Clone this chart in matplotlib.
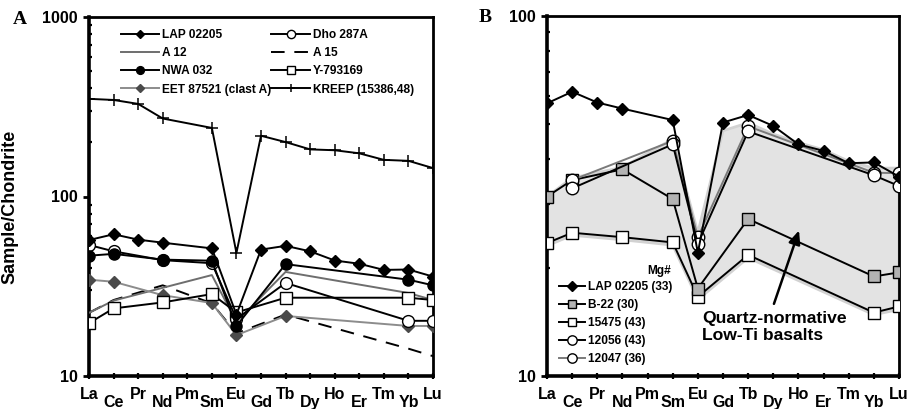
import matplotlib
matplotlib.use("Agg")
import matplotlib.pyplot as plt
from matplotlib.ticker import NullFormatter, FixedLocator
import numpy as np

plt.rcParams['font.family'] = ['Liberation Sans', 'DejaVu Sans']
plt.rcParams['font.weight'] = 'bold'

elements = ['La', 'Ce', 'Pr', 'Nd', 'Pm', 'Sm', 'Eu', 'Gd', 'Tb', 'Dy', 'Ho', 'Er', 'Tm', 'Yb', 'Lu']

# ---- Panel A data ----
lap_el = ['La', 'Ce', 'Pr', 'Nd', 'Sm', 'Eu', 'Gd', 'Tb', 'Dy', 'Ho', 'Er', 'Tm', 'Yb', 'Lu']
lap_val = [57.2, 61.6, 57.5, 55.3, 51.4, 22.0, 50.6, 53.1, 49.5, 44.0, 42.2, 39.0, 39.2, 35.8]

dho_el = ['La', 'Ce', 'Nd', 'Sm', 'Eu', 'Tb', 'Yb', 'Lu']
dho_val = [53.7, 49.5, 44.2, 42.5, 20.8, 33.0, 20.3, 20.3]

a12_el = ['La', 'Ce', 'Nd', 'Sm', 'Eu', 'Tb', 'Yb', 'Lu']
a12_val = [22.5, 26.3, 31.0, 36.5, 20.0, 38.0, 29.0, 26.5]

a15_el = ['La', 'Ce', 'Nd', 'Sm', 'Eu', 'Tb', 'Yb', 'Lu']
a15_val = [22.5, 26.5, 32.0, 25.4, 17.3, 22.0, 14.2, 12.9]

nwa_el = ['La', 'Ce', 'Nd', 'Sm', 'Eu', 'Tb', 'Yb', 'Lu']
nwa_val = [46.8, 47.9, 44.5, 43.9, 19.0, 42.0, 34.4, 32.0]

y79_el = ['La', 'Ce', 'Nd', 'Sm', 'Eu', 'Tb', 'Yb', 'Lu']
y79_val = [19.7, 23.8, 25.7, 28.6, 22.6, 27.3, 27.3, 26.5]

eet_el = ['La', 'Ce', 'Nd', 'Sm', 'Eu', 'Tb', 'Yb', 'Lu']
eet_val = [34.4, 33.5, 28.2, 25.5, 16.9, 21.6, 19.0, 19.0]

kreep_el = ['La', 'Ce', 'Pr', 'Nd', 'Sm', 'Eu', 'Gd', 'Tb', 'Dy', 'Ho', 'Er', 'Tm', 'Yb', 'Lu']
kreep_val = [350, 345, 328, 272, 241, 48.5, 218, 201, 183, 181, 174, 160, 158, 144]

# ---- Panel B data ----
b22_el = ['La', 'Ce', 'Nd', 'Sm', 'Eu', 'Tb', 'Yb', 'Lu']
b22_val = [31.5, 35.0, 37.5, 31.0, 17.5, 27.3, 18.9, 19.4]

s15475_el = ['La', 'Ce', 'Nd', 'Sm', 'Eu', 'Tb', 'Yb', 'Lu']
s15475_val = [23.4, 25.0, 24.3, 23.5, 16.6, 21.7, 15.0, 15.6]

s12056_el = ['Ce', 'Sm', 'Eu', 'Tb', 'Yb', 'Lu']
s12056_val = [33.2, 44.0, 23.3, 47.8, 36.1, 33.7]

s12047_el = ['Ce', 'Sm', 'Eu', 'Tb', 'Yb', 'Lu']
s12047_val = [35.0, 45.0, 24.3, 49.4, 36.7, 36.6]

field_up_el = ['La', 'Ce', 'Nd', 'Sm', 'Eu', 'Gd', 'Tb', 'Dy', 'Ho', 'Er', 'Tm', 'Yb', 'Lu']
field_up_val = [31.5, 35.5, 38.0, 45.5, 25.0, 48.0, 50.5, 47.0, 44.5, 42.5, 39.5, 37.8, 37.8]
field_lo_el = ['La', 'Ce', 'Nd', 'Sm', 'Eu', 'Tb', 'Yb', 'Lu']
field_lo_val = [23.0, 24.6, 23.9, 23.1, 16.3, 21.3, 14.8, 15.3]


def pos(els):
    return [elements.index(e) for e in els]


W, H = 913, 409
fig = plt.figure(figsize=(W / 100, H / 100), dpi=100)


def make_axes(l, r, t, b):
    return fig.add_axes([l / W, 1 - b / H, (r - l) / W, (b - t) / H])


def style_axes(ax, ylo, yhi):
    ax.set_yscale('log')
    ax.set_xlim(0, 14)
    ax.set_ylim(ylo, yhi)
    decades = [10 ** k for k in range(int(np.log10(ylo)), int(np.log10(yhi)) + 1)]
    ax.yaxis.set_major_locator(FixedLocator(decades))
    ax.set_yticklabels([str(d) for d in decades])
    minors = [m * d for d in decades[:-1] for m in range(2, 10)]
    ax.yaxis.set_minor_locator(FixedLocator(minors))
    ax.yaxis.set_minor_formatter(NullFormatter())
    ax.tick_params(axis='y', which='major', direction='out', length=4, width=2,
                   labelsize=11.5, pad=4)
    ax.tick_params(axis='y', which='minor', direction='in', length=2.5, width=1.6)
    even = list(range(0, 15, 2))
    odd = list(range(1, 15, 2))
    ax.set_xticks(even)
    ax.set_xticklabels([elements[i] for i in even])
    ax.set_xticks(odd, minor=True)
    ax.set_xticklabels([elements[i] for i in odd], minor=True)
    ax.tick_params(axis='x', which='both', direction='inout', length=4, width=1.6,
                   labelsize=11.5)
    ax.tick_params(axis='x', which='major', pad=6.0)
    ax.tick_params(axis='x', which='minor', pad=11.8)
    for s in ['left', 'bottom']:
        ax.spines[s].set_linewidth(2.6)
    for s in ['top', 'right']:
        ax.spines[s].set_linewidth(2.0)


# ================= Panel A =================
axA = make_axes(89, 433, 17, 376)
style_axes(axA, 10, 1000)
lw = 1.4
axA.plot(pos(kreep_el), kreep_val, color='black', lw=lw, marker='+', ms=9, mew=1.1,
         label='KREEP (15386,48)', zorder=3)
axA.plot(pos(a15_el), a15_val, color='black', lw=lw, ls=(0, (7, 5)), label='A 15', zorder=3)
axA.plot(pos(a12_el), a12_val, color='#6e6e6e', lw=lw, label='A 12', zorder=3)
axA.plot(pos(eet_el), eet_val, color='#8c8c8c', lw=lw, marker='D', ms=6,
         mfc='#4a4a4a', mec='#4a4a4a', label='EET 87521 (clast A)', zorder=4)
axA.plot(pos(y79_el), y79_val, color='black', lw=lw, marker='s', ms=8, mfc='white',
         mec='black', mew=1.0, label='Y-793169', zorder=5)
axA.plot(pos(dho_el), dho_val, color='black', lw=lw, marker='o', ms=8.5, mfc='white',
         mec='black', mew=1.0, label='Dho 287A', zorder=5)
axA.plot(pos(nwa_el), nwa_val, color='black', lw=lw, marker='o', ms=8, mfc='black',
         mec='black', label='NWA 032', zorder=6)
axA.plot(pos(lap_el), lap_val, color='black', lw=lw, marker='D', ms=6.5, mfc='black',
         mec='black', label='LAP 02205', zorder=6)

hA, lA = axA.get_legend_handles_labels()
orderA = ['LAP 02205', 'A 12', 'NWA 032', 'EET 87521 (clast A)',
          'Dho 287A', 'A 15', 'Y-793169', 'KREEP (15386,48)']
hmap = dict(zip(lA, hA))
legA = axA.legend([hmap[k] for k in orderA], orderA, ncol=2, loc='upper left',
                  bbox_to_anchor=(121 / W, 1 - 29 / H), bbox_transform=fig.transFigure,
                  frameon=False, fontsize=8.6, handlelength=3.2, handletextpad=0.25,
                  columnspacing=0.0, labelspacing=0.52, borderpad=0, borderaxespad=0,
                  markerscale=0.7)
axA.set_ylabel('Sample/Chondrite', fontsize=13, fontweight='bold')
axA.yaxis.set_label_coords(-0.205, 0.47)
fig.text(20 / W, 1 - 20 / H, 'A', family='Liberation Serif', fontweight='bold',
         fontsize=14, ha='center', va='center')

# ================= Panel B =================
axB = make_axes(547, 899, 16, 376)
style_axes(axB, 10, 100)

# field polygon
fx = pos(field_up_el) + pos(field_lo_el)[::-1]
fy = field_up_val + field_lo_val[::-1]
axB.fill(fx, fy, facecolor='#e3e3e3', edgecolor='#d2d2d2', lw=2.0, zorder=1)

axB.plot(pos(s15475_el), s15475_val, color='black', lw=lw, marker='s', ms=8.5,
         mfc='white', mec='black', mew=1.0, label='15475 (43)', zorder=4)
axB.plot(pos(b22_el), b22_val, color='black', lw=lw, marker='s', ms=8.5,
         mfc='#b3b3b3', mec='black', mew=1.0, label='B-22 (30)', zorder=4)
axB.plot(pos(s12047_el), s12047_val, color='#7a7a7a', lw=lw, marker='o', ms=9,
         mfc='white', mec='black', mew=1.0, label='12047 (36)', zorder=5)
axB.plot(pos(s12056_el), s12056_val, color='black', lw=lw, marker='o', ms=9,
         mfc='white', mec='black', mew=1.0, label='12056 (43)', zorder=5)
axB.plot(pos(lap_el), lap_val, color='black', lw=lw, marker='D', ms=6.5,
         mfc='black', mec='black', label='LAP 02205 (33)', zorder=6)

hB, lB = axB.get_legend_handles_labels()
orderB = ['LAP 02205 (33)', 'B-22 (30)', '15475 (43)', '12056 (43)', '12047 (36)']
hmapB = dict(zip(lB, hB))
axB.legend([hmapB[k] for k in orderB], orderB, loc='upper left',
           bbox_to_anchor=(559 / W, 1 - 281 / H), bbox_transform=fig.transFigure,
           frameon=False, fontsize=8.6, handlelength=2.2, handletextpad=0.25,
           labelspacing=0.5, borderpad=0, borderaxespad=0, markerscale=0.75)
fig.text(659 / W, 1 - 271 / H, 'Mg#', fontsize=8.6, fontweight='bold',
         ha='center', va='center')

axB.text(6.17, 10 ** (2 - (327 - 16) / 360), 'Quartz-normative\nLow-Ti basalts',
         fontsize=12.6, fontweight='bold', ha='left', va='center', linespacing=1.1,
         zorder=7)
axB.annotate('', xy=(10.06, 25.8), xytext=(8.99, 15.6),
             arrowprops=dict(arrowstyle='-|>,head_length=0.8,head_width=0.35',
                             color='black', lw=1.8), zorder=7)

fig.text(485 / W, 1 - 18 / H, 'B', family='Liberation Serif', fontweight='bold',
         fontsize=14, ha='center', va='center')

fig.savefig('out.png', dpi=100)
